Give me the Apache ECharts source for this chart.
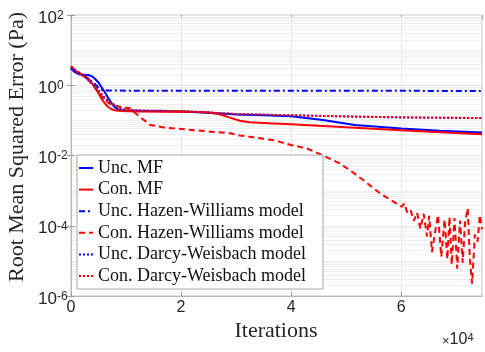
<!DOCTYPE html>
<html>
<head>
<meta charset="utf-8">
<script src="https://cdn.jsdelivr.net/npm/echarts@6/dist/echarts.min.js"></script>
<style>
  html, body { margin: 0; padding: 0; background: #ffffff; }
  #chart { width: 485px; height: 352px; }
</style>
</head>
<body>
<div id="chart"></div>
<script>
// Iteration counts (x) and RMSE in Pa (y), one array per curve.
const uncMF = [
  [0, 3.0], [500, 2.5], [1300, 2.1], [2000, 2.0], [3100, 1.95], [3800, 1.8],
  [4300, 1.55], [5000, 1.2], [5500, 0.9], [6100, 0.65], [6700, 0.45],
  [7300, 0.32], [7900, 0.24], [8500, 0.205], [9100, 0.195], [10000, 0.19],
  [15000, 0.185], [20000, 0.178], [25000, 0.165], [30000, 0.148],
  [35000, 0.14], [40000, 0.132], [45800, 0.102], [51600, 0.074],
  [60000, 0.059], [67000, 0.051], [74700, 0.045]
];
const conMF = [
  [0, 3.5], [700, 2.6], [1300, 2.3], [2000, 2.0], [3100, 1.6], [3700, 1.2],
  [4300, 0.9], [4900, 0.62], [5500, 0.43], [6100, 0.31], [6700, 0.245],
  [7300, 0.21], [7900, 0.195], [9000, 0.185], [12000, 0.18], [18000, 0.176],
  [23000, 0.172], [25000, 0.168], [27000, 0.15], [29000, 0.118],
  [30700, 0.098], [32500, 0.088], [36000, 0.083], [40000, 0.078],
  [45000, 0.07], [51600, 0.062], [60000, 0.052], [67000, 0.046], [74700, 0.04]
];
const uncHW = [
  [0, 3.1], [1000, 2.4], [2000, 2.0], [2800, 1.6], [3500, 1.35], [4300, 1.1],
  [5000, 0.85], [5600, 0.74], [6500, 0.71], [10000, 0.70], [40000, 0.695],
  [74700, 0.69]
];
const conHW = [
  [0, 3.4], [1000, 2.5], [2000, 2.0], [3000, 1.5], [4000, 1.0], [5000, 0.62],
  [6000, 0.4], [7000, 0.3], [8000, 0.26], [9000, 0.24], [10000, 0.23],
  [10700, 0.22], [12500, 0.126], [14400, 0.074], [16800, 0.063],
  [22800, 0.052], [28900, 0.043], [30700, 0.037], [32500, 0.034],
  [36700, 0.0275], [40000, 0.020], [42900, 0.0158], [45800, 0.010],
  [48900, 0.0059], [50700, 0.0038], [53100, 0.002], [56200, 0.00083],
  [60100, 3.47e-4], [60600, 4.37e-4], [61100, 2.40e-4], [61700, 2.82e-4],
  [62300, 1.38e-4], [62900, 2.34e-4], [63500, 8.3e-5], [64100, 2.19e-4],
  [64700, 5.0e-5], [65100, 1.91e-4], [65600, 1.78e-5], [66100, 5.6e-5],
  [66700, 2.0e-4], [67300, 1.32e-5], [67900, 1.51e-4], [68400, 1.12e-5],
  [68800, 1.78e-4], [69200, 7.9e-6], [69700, 1.66e-4], [70200, 6.0e-6],
  [70700, 1.41e-4], [71200, 8.9e-6], [71600, 1.12e-4], [72100, 3.16e-4],
  [72500, 1.12e-5], [72900, 2.24e-6], [73400, 5.6e-5], [73900, 3.55e-5],
  [74300, 2.0e-4], [74700, 7.9e-5]
];
const uncDW = [
  [0, 3.2], [1000, 2.5], [2000, 2.0], [3000, 1.5], [4000, 1.05], [5000, 0.7],
  [6000, 0.45], [7000, 0.33], [8000, 0.27], [9000, 0.22], [10000, 0.2],
  [12000, 0.19], [20000, 0.184], [30000, 0.151], [40000, 0.139],
  [50000, 0.129], [60000, 0.121], [74700, 0.116]
];
const conDW = [
  [0, 3.4], [1000, 2.6], [2000, 2.0], [3000, 1.5], [4000, 1.05], [5000, 0.7],
  [6000, 0.45], [7000, 0.33], [8000, 0.27], [9000, 0.22], [10000, 0.2],
  [12000, 0.19], [20000, 0.185], [30000, 0.152], [40000, 0.14],
  [50000, 0.13], [60000, 0.122], [74700, 0.117]
];

const seriesNames = [
  'Unc. MF', 'Con. MF',
  'Unc. Hazen-Williams model', 'Con. Hazen-Williams model',
  'Unc. Darcy-Weisbach model', 'Con. Darcy-Weisbach model'
];
const xMax = 74700;
const yMin = 1e-6;
const yMax = 1e2;

const BLUE = '#0000ff';
const RED = '#ff0000';
const SERIF = '"Liberation Serif", "Times New Roman", serif';
const SANS = '"Liberation Sans", Arial, Helvetica, sans-serif';

function lineSeries(name, data, color, type) {
  return {
    name: name, type: 'line', data: data, symbol: 'none',
    showSymbol: false, smooth: false, animation: false,
    lineStyle: { color: color, width: 2, type: type },
    itemStyle: { color: color },
    z: 3
  };
}

const chart = echarts.init(document.getElementById('chart'), null, { renderer: 'canvas' });

const baseGraphics = [
  {
    type: 'text', left: 442, top: 332, silent: true,
    style: {
      text: '{m|×}{b|10}{s|4}',
      rich: {
        m: { fontFamily: SANS, fontSize: 13, lineHeight: 16, fill: '#262626', verticalAlign: 'bottom' },
        b: { fontFamily: SANS, fontSize: 16, lineHeight: 16, fill: '#262626', verticalAlign: 'bottom' },
        s: { fontFamily: SANS, fontSize: 11, lineHeight: 11, fill: '#262626', verticalAlign: 'top' }
      }
    }
  },
  {
    type: 'text', x: 276, y: 331, silent: true,
    style: {
      text: 'Iterations', fontFamily: SERIF, fontSize: 22, fill: '#262626',
      align: 'center', verticalAlign: 'middle'
    }
  },
  {
    type: 'text', x: 17, y: 147, rotation: Math.PI / 2, silent: true,
    style: {
      text: 'Root Mean Squared Error (Pa)', fontFamily: SERIF, fontSize: 22, fill: '#262626',
      align: 'center', verticalAlign: 'middle'
    }
  }
];

chart.setOption({
  animation: false,
  backgroundColor: '#ffffff',
  grid: {
    left: 71, top: 15, right: 3, bottom: 56,
    show: true, borderColor: '#c0c0c0', borderWidth: 1
  },
  xAxis: [{
    type: 'value', min: 0, max: xMax, interval: 20000,
    axisLine: { show: true, lineStyle: { color: '#b8b8b8', width: 1 } },
    axisTick: { show: true, inside: true, length: 4, lineStyle: { color: '#9a9a9a' } },
    axisLabel: {
      margin: 4, showMaxLabel: false, color: '#262626',
      fontFamily: SANS, fontSize: 16,
      formatter: v => String(Math.round(v / 10000))
    },
    splitLine: { show: true, lineStyle: { color: '#e6e6e6', width: 1 } }
  }, {
    type: 'value', min: 0, max: xMax, interval: 20000, position: 'top',
    axisLine: { show: false },
    axisTick: { show: true, inside: true, length: 4, lineStyle: { color: '#9a9a9a' } },
    axisLabel: { show: false }, splitLine: { show: false }
  }],
  yAxis: [{
    type: 'log', logBase: 10, min: yMin, max: yMax, interval: 2,
    axisLine: { show: true, lineStyle: { color: '#b8b8b8', width: 1 } },
    axisTick: { show: true, inside: true, length: 4, lineStyle: { color: '#9a9a9a' } },
    axisLabel: {
      margin: 33, align: 'left', color: '#262626', padding: [6, 0, 0, 0],
      formatter: v => '{b|10}{s|' + Math.round(Math.log10(v)) + '}',
      rich: {
        b: { fontFamily: SANS, fontSize: 17, lineHeight: 17, color: '#262626', verticalAlign: 'bottom' },
        s: { fontFamily: SANS, fontSize: 12, lineHeight: 12, color: '#262626', verticalAlign: 'top' }
      }
    },
    splitLine: { show: true, lineStyle: { color: '#e6e6e6', width: 1 } }
  }, {
    type: 'log', logBase: 10, min: yMin, max: yMax, interval: 2, position: 'right',
    axisLine: { show: false },
    axisTick: { show: true, inside: true, length: 4, lineStyle: { color: '#9a9a9a' } },
    axisLabel: { show: false }, splitLine: { show: false }
  }],
  legend: {
    data: seriesNames,
    orient: 'vertical', left: 77, top: 155,
    backgroundColor: '#ffffff', borderColor: '#a8a8a8', borderWidth: 1, borderRadius: 0,
    padding: [4, 3, 4, 1],
    itemWidth: 14, itemHeight: 10, itemGap: 3.6,
    itemStyle: { opacity: 0 },
    textStyle: { fontFamily: SERIF, fontSize: 18, lineHeight: 17, color: '#111111', width: 222 },
    selectedMode: false
  },
  graphic: baseGraphics,
  series: [
    lineSeries(seriesNames[0], uncMF, BLUE, 'solid'),
    lineSeries(seriesNames[1], conMF, RED, 'solid'),
    lineSeries(seriesNames[2], uncHW, BLUE, [6, 3, 2, 3]),
    lineSeries(seriesNames[3], conHW, RED, [6, 4]),
    lineSeries(seriesNames[4], uncDW, BLUE, [2, 2]),
    lineSeries(seriesNames[5], conDW, RED, [2, 2])
  ]
});

// faint sub-decade grid lines (2..9 × 10^n and odd decades), placed through the y scale
const xLeft = chart.convertToPixel({ xAxisIndex: 0 }, 0);
const xRight = chart.convertToPixel({ xAxisIndex: 0 }, xMax);
const minorLines = [];
for (let e = -6; e < 2; e++) {
  for (let k = 1; k <= 9; k++) {
    if (k === 1 && e % 2 === 0) continue;
    const y = Math.round(chart.convertToPixel({ yAxisIndex: 0 }, k * Math.pow(10, e))) + 0.5;
    minorLines.push({
      type: 'line', silent: true, z: 1,
      shape: { x1: xLeft + 1, y1: y, x2: xRight - 1, y2: y },
      style: { stroke: '#efefef', lineWidth: 1 }
    });
  }
}
chart.setOption({ graphic: baseGraphics.concat(minorLines) });
</script>
</body>
</html>
